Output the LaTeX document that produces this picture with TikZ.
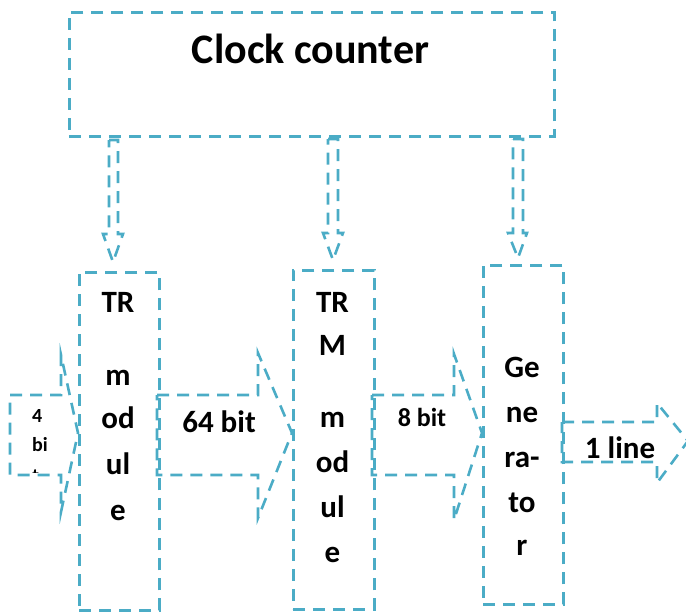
\documentclass[tikz,border=0pt]{standalone}
\usepackage{fontspec}
\setmainfont{Carlito}
\definecolor{cb}{RGB}{75,172,198}
\begin{document}
\begin{tikzpicture}[x=1pt,y=-1pt,
  dl/.style={draw=cb, line width=2.6pt, dash pattern=on 12pt off 8pt},
  boxs/.style={dl, inner sep=0pt, anchor=north west},
  lbl/.style={font=\fontsize{31}{37}\selectfont\bfseries, inner sep=0pt, anchor=base},
  sml/.style={font=\fontsize{20}{24}\selectfont\bfseries, inner sep=0pt, anchor=base west}]
\useasboundingbox (0,0) rectangle (686,613);

% block arrows (drawn first, under the boxes)
\draw[dl, fill=white] (10,395) -- (61,395) -- (61,355) -- (78,433) -- (61,512) -- (61,475) -- (10,475) -- cycle;
\draw[dl, fill=white] (157,395) -- (258,395) -- (258,353) -- (292,433) -- (258,518) -- (258,475) -- (157,475) -- cycle;
\draw[dl, fill=white] (372,395) -- (454,395) -- (454,354) -- (482,433) -- (454,520) -- (454,475) -- (372,475) -- cycle;
\draw[dl, fill=white] (562,422) -- (657,422) -- (657,403) -- (688,441) -- (657,483) -- (657,462) -- (562,462) -- cycle;

% down arrows from the clock counter
\draw[dl] (109,140) -- (118,140) -- (118,234) -- (123,234) -- (113,262) -- (103,234) -- (109,234) -- cycle;
\draw[dl] (328,139) -- (338,139) -- (338,233) -- (343,233) -- (333,260) -- (323,233) -- (328,233) -- cycle;
\draw[dl] (513,139) -- (523,139) -- (523,233) -- (527,233) -- (518,258) -- (508,233) -- (513,233) -- cycle;

% boxes
\node[boxs, minimum width=485pt, minimum height=124pt] (clock) at (68,11) {};
\node[boxs, minimum width=80pt, minimum height=338pt] (mod1) at (78,271) {};
\node[boxs, minimum width=81pt, minimum height=339pt] (mod2) at (292,269) {};
\node[boxs, minimum width=80pt, minimum height=339pt] (gen) at (482,264) {};

% texts
\node[lbl, font=\fontsize{42}{50}\selectfont\bfseries] (clocktxt) at (310.5,63) {Clock counter};

\foreach \t/\y [count=\i] in {TR/312, m/385, od/428, ul/474, e/520}
  \node[lbl] (modA\i) at (118,\y) {\t};
\foreach \t/\y [count=\i] in {TR/312, M/355, m/427, od/472, ul/517, e/562}
  \node[lbl] (modB\i) at (332.5,\y) {\t};
\foreach \t/\y [count=\i] in {Ge/377, ne/422, ra-/467, to/512, r/555}
  \node[lbl] (genT\i) at (522,\y) {\t};

\node[lbl] (t64) at (219,432) {64 bit};
\node[lbl, font=\fontsize{26}{31}\selectfont\bfseries] (t8) at (422,426) {8 bit};
\node[lbl] (t1) at (620,458) {1 line};

\begin{scope}
  \clip (10,395) rectangle (61,472.5);
  \node[sml] (t4a) at (32,422) {4};
  \node[sml] (t4b) at (32,451) {bi};
  \node[sml] (t4c) at (32,482) {t};
\end{scope}
\end{tikzpicture}
\end{document}
